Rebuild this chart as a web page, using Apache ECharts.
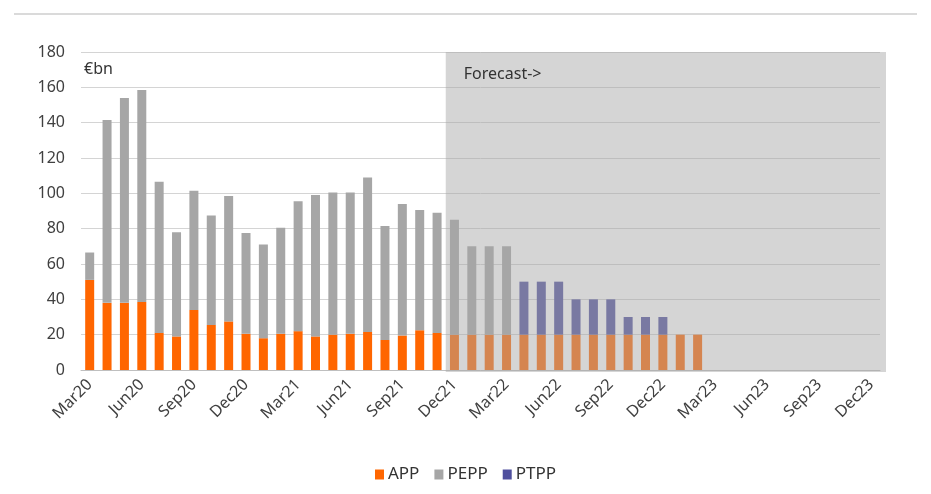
<!DOCTYPE html>
<html>
<head>
<meta charset="utf-8">
<script src="https://cdn.jsdelivr.net/npm/echarts@6/dist/echarts.min.js"></script>
<style>html,body{margin:0;padding:0;background:#fff}#c{width:931px;height:494px}</style>
</head>
<body>
<div id="c"></div>
<script>
var categories = ['Mar20','Apr20','May20','Jun20','Jul20','Aug20','Sep20','Oct20','Nov20','Dec20',
  'Jan21','Feb21','Mar21','Apr21','May21','Jun21','Jul21','Aug21','Sep21','Oct21','Nov21','Dec21',
  'Jan22','Feb22','Mar22','Apr22','May22','Jun22','Jul22','Aug22','Sep22','Oct22','Nov22','Dec22',
  'Jan23','Feb23','Mar23','Apr23','May23','Jun23','Jul23','Aug23','Sep23','Oct23','Nov23','Dec23'];
var appValues = [51,38,38,38.5,21,19,34,25.5,27.5,20.5,18,20.5,22,19,20,20.5,21.5,17,19.5,22.5,21,20,
  20,20,20,20,20,20,20,20,20,20,20,20,20,20,null,null,null,null,null,null,null,null,null,null];
var peppValues = [15.5,103.5,116,120,85.5,59,67.5,62,71,57,53,60,73.5,80,80.5,80,87.5,64.5,74.5,68,68,65,
  50,50,50,null,null,null,null,null,null,null,null,null,null,null,null,null,null,null,null,null,null,null,null,null];
var ptppValues = [null,null,null,null,null,null,null,null,null,null,null,null,null,null,null,null,null,null,null,null,null,null,
  null,null,null,30,30,30,20,20,20,10,10,10,null,null,null,null,null,null,null,null,null,null,null,null];
var yTicks = [0,20,40,60,80,100,120,140,160,180];
var forecastStart = 'Dec21';
var forecastLabel = 'Forecast->';
var unitLabel = '€bn';

var FONT = 'Noto Sans';
var chart = echarts.init(document.getElementById('c'));
var fIdx = categories.indexOf(forecastStart);
chart.setOption({
  animation: false,
  textStyle: {fontFamily: FONT},
  grid: {left: 81, right: 51, top: 52, bottom: 124},
  graphic: [
    {type: 'line', shape: {x1: 14, y1: 14, x2: 917, y2: 14}, style: {stroke: '#DADADA', lineWidth: 2}},
    {type: 'text', left: 84, top: 61, style: {text: unitLabel, font: '16px "Noto Sans"', fill: '#333'}}
  ],
  legend: {
    data: ['APP','PEPP','PTPP'],
    top: 461, left: 'center',
    itemWidth: 9, itemHeight: 10, itemGap: 15,
    icon: 'rect',
    textStyle: {fontSize: 17, color: '#333', fontFamily: FONT, padding: [0,0,0,-1]}
  },
  xAxis: {
    type: 'category',
    data: categories,
    boundaryGap: true,
    axisLine: {lineStyle: {color: '#BFBFBF', width: 1}},
    axisTick: {interval: 2, length: 6, lineStyle: {color: '#BFBFBF'}},
    axisLabel: {interval: 2, rotate: 45, fontSize: 16, color: '#404040', margin: 12}
  },
  yAxis: {
    type: 'value',
    min: yTicks[0], max: yTicks[yTicks.length-1], interval: yTicks[1]-yTicks[0],
    axisLine: {show: false}, axisTick: {show: false},
    axisLabel: {fontSize: 16, color: '#404040', margin: 16},
    splitLine: {lineStyle: {color: '#D4D4D4', width: 1}}
  },
  series: [
    {name: 'APP', type: 'bar', stack: 'a', data: appValues, barWidth: 9, itemStyle: {color: '#FF6600'}},
    {name: 'PEPP', type: 'bar', stack: 'a', data: peppValues, barWidth: 9, itemStyle: {color: '#A6A6A6'}},
    {name: 'PTPP', type: 'bar', stack: 'a', data: ptppValues, barWidth: 9, itemStyle: {color: '#4F4F9E'}},
    {
      name: 'forecast', type: 'custom', silent: true, z: 5,
      data: [[fIdx, yTicks[yTicks.length-1]]],
      renderItem: function (params, api) {
        var cs = params.coordSys;
        var top = api.coord([api.value(0), api.value(1)]);
        var bot = api.coord([api.value(0), 0]);
        var bw = api.size([1, 0])[0];
        var x0 = top[0] - bw / 2;
        var x1 = cs.x + cs.width + 6;
        return {
          type: 'group',
          children: [
            {type: 'rect', shape: {x: x0, y: top[1], width: x1 - x0, height: bot[1] - top[1] + 2},
              style: {fill: 'rgba(167,167,167,0.48)'}},
            {type: 'text', x: x0 + 18, y: top[1] + 22,
              style: {text: forecastLabel, font: '16px "Noto Sans"', fill: '#333', textVerticalAlign: 'middle'}}
          ]
        };
      }
    }
  ]
});
</script>
</body>
</html>
